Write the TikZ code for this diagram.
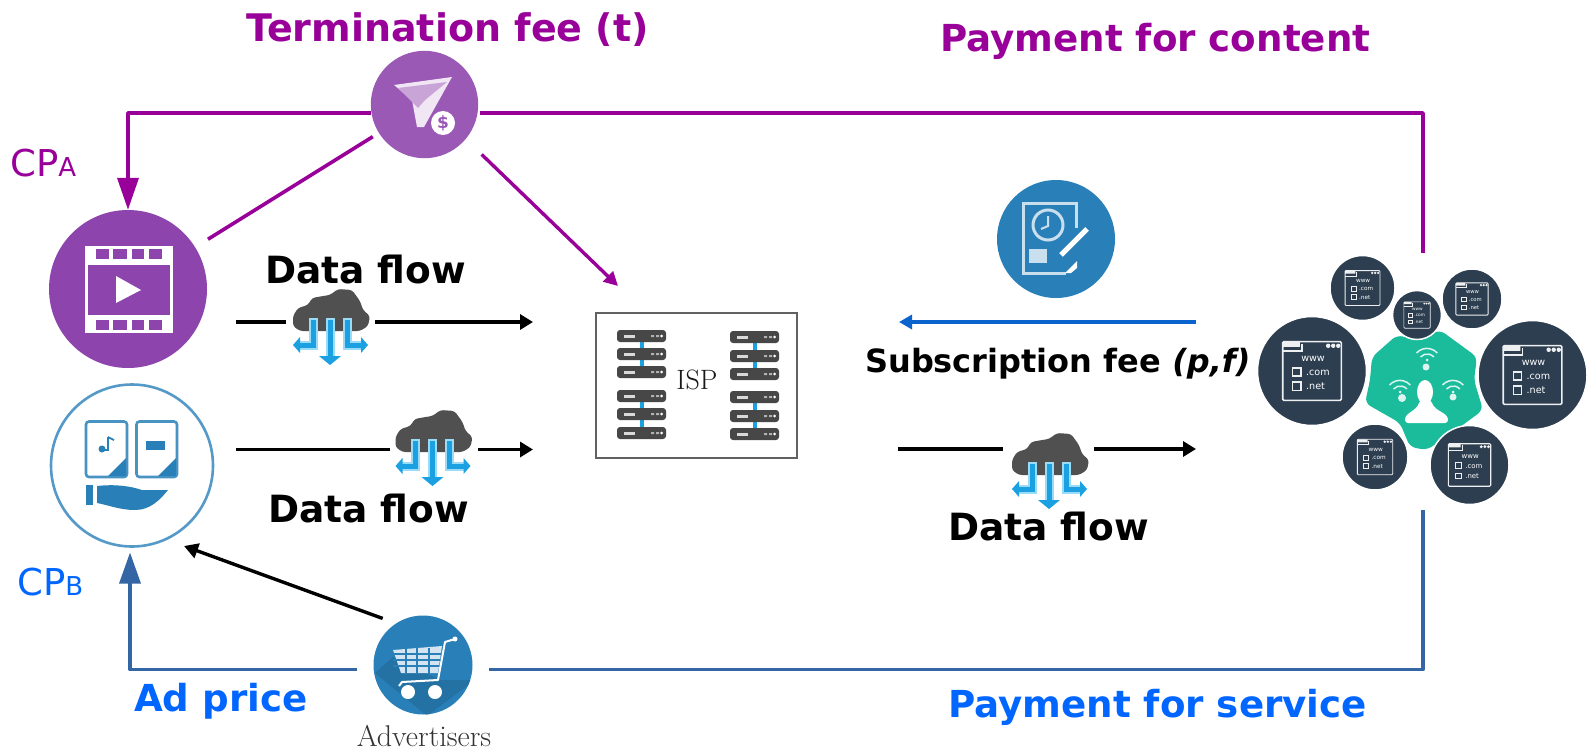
\documentclass[tikz,border=0pt]{standalone}
\usepackage{fontspec}
\newfontfamily\dv{DejaVu Sans}
\usetikzlibrary{arrows.meta,calc}
\definecolor{pline}{HTML}{990099}
\definecolor{termc}{HTML}{9B59B6}
\definecolor{cpac}{HTML}{8E44AD}
\definecolor{iconblue}{HTML}{2980B9}
\definecolor{bline}{HTML}{3465A4}
\definecolor{lblue}{HTML}{0066FF}
\definecolor{subb}{HTML}{0B63CE}
\definecolor{darkc}{HTML}{2C3E50}
\definecolor{teal}{HTML}{1ABC9C}
\definecolor{cloudc}{HTML}{505050}
\definecolor{pipe}{HTML}{1BA1E2}
\definecolor{pipel}{HTML}{9ADCF7}
\newcommand{\fsz}[1]{\fontsize{#1}{#1}\selectfont}
\tikzset{
  plabel/.style={anchor=base west,inner sep=0pt,font=\dv\bfseries\fsz{37.2},text=pline},
  blabel/.style={anchor=base west,inner sep=0pt,font=\dv\bfseries\fsz{37.2},text=lblue},
  dlabel/.style={anchor=base west,inner sep=0pt,font=\dv\bfseries\fsz{37.5},text=black},
  purpleline/.style={draw=pline,line width=3.6pt},
  purplearrow/.style={purpleline,-{Triangle[length=32pt,width=21pt]}},
  thinpurple/.style={draw=pline,line width=3.4pt,-{Triangle[length=14pt,width=14pt]}},
  blueline/.style={draw=bline,line width=3.4pt},
  bluearrow/.style={blueline,-{Triangle[length=31pt,width=21pt]}},
  flow/.style={draw=black,line width=3.4pt},
  flowarrow/.style={flow,-{Triangle[length=13pt,width=15pt]}},
  circ/.style={circle,inner sep=0pt},
  ghost/.style={rectangle,inner sep=0pt,outer sep=0pt},
}
% cloud icon, origin at top centre of the cloud
\newcommand{\cloudicon}[2]{%
  \begin{scope}[shift={(#1,#2)}]
    \fill[cloudc,rounded corners=3pt] (-38,27) -- (-33,19) -- (-23,16) -- (-19,9) -- (-8,7) -- (-1,6) -- (7,0)
      -- (21,1) -- (29,12) -- (32,21) -- (39,27) -- (37,37) -- (29,42) -- (-31,42) -- (-38,37) -- cycle;
    \draw[pipel,line width=9pt,line join=miter] (-18,29) -- (-18,56) -- (-32,56);
    \draw[pipel,line width=9pt] (-1,29) -- (-1,68);
    \draw[pipel,line width=9pt,line join=miter] (16,29) -- (16,56) -- (30,56);
    \draw[pipe,line width=5pt,line join=miter] (-18,31) -- (-18,56) -- (-33,56);
    \draw[pipe,line width=5pt] (-1,31) -- (-1,68);
    \draw[pipe,line width=5pt,line join=miter] (16,31) -- (16,56) -- (31,56);
    \fill[pipe] (-38,56) -- (-31,48) -- (-31,64) -- cycle;
    \fill[pipe] (37,56) -- (30,48) -- (30,64) -- cycle;
    \fill[pipe] (-1,76) -- (-12,67) -- (10,67) -- cycle;
  \end{scope}}
% rack unit
\newcommand{\serverunit}[2]{%
  \fill[black!72,rounded corners=3pt] (#1,#2-6) rectangle ++(49,12);
  \fill[white!85!black] (#1+7,#2-1.5) rectangle ++(11,3);
  \fill[white!70!black] (#1+34,#2-1) rectangle ++(3,2) (#1+39,#2-1) rectangle ++(3,2);
  \fill[white] (#1+44.5,#2) circle (1.5);}
\newcommand{\rackgroup}[4]{%
  \fill[pipe] (#1+22.5,#2) rectangle (#1+26.5,#4);
  \serverunit{#1}{#2}\serverunit{#1}{#3}\serverunit{#1}{#4}}
% website circle: name, x, y, radius
\newcommand{\webcircle}[4]{%
  \node[circ,fill=darkc,draw=white,line width=1.5pt,minimum size=#4*2pt] (#1) at (#2,#3) {};
  \pgfmathsetmacro{\ws}{#4/54}
  \pgfmathsetmacro{\wf}{9.5*\ws}
  \begin{scope}[shift={(#2,#3)},x=\ws pt,y=-\ws pt,white!92!darkc]
    \draw[line width=\ws*1.5pt,rounded corners=1pt] (-29,-29) rectangle (29,29);
    \draw[line width=\ws*1.5pt] (-29,-20) -- (-10,-20) -- (-10,-27);
    \fill (16,-25) circle (2.2) (21,-25) circle (2.2) (26,-25) circle (2.2) (-29,-29) rectangle (-12,-24);
    \node[inner sep=0pt,text=white,font=\dv\fsz{\wf}] (#1www) at (1,-12) {www};
    \draw[line width=\ws*1.3pt] (-19,-3) rectangle (-11,5) (-19,11) rectangle (-11,19);
    \node[inner sep=0pt,text=white,font=\dv\fsz{\wf},anchor=west] (#1com) at (-6,1.5) {.com};
    \node[inner sep=0pt,text=white,font=\dv\fsz{\wf},anchor=west] (#1net) at (-6,15) {.net};
  \end{scope}}
\newcommand{\wifi}[3]{%
  \begin{scope}[shift={(#1,#2)},white!85!teal,line width=1.5pt]
    \draw (-10.5,-2) arc (222:318:14);
    \draw (-6.5,2) arc (222:318:9);
    \fill (0,5) circle (1.5);
    \fill #3;
  \end{scope}}
\begin{document}
\begin{tikzpicture}[x=1pt,y=-1pt]
\useasboundingbox (0,0) rectangle (1589,750);
\fill[white] (0,0) rectangle (1589,750);

% ---------- hubs
\node[circ,fill=termc,minimum size=107.4pt] (term) at (424.5,104.5) {};
\node[circ,fill=cpac,minimum size=158pt] (cpa) at (128,289) {};
\node[circ,draw=iconblue!80!white,line width=2.6pt,fill=white,minimum size=162pt,outer sep=6pt] (cpb) at (132,465.5) {};
\node[circ,fill=iconblue,minimum size=99pt,outer sep=16.5pt] (adv) at (423,665) {};
\node[circ,fill=iconblue,minimum size=118pt] (doc) at (1056,239) {};
\node[ghost,draw=black!62,line width=2pt,fill=white,minimum width=201pt,minimum height=145pt] (isp) at (696.5,385.5) {};
\node[ghost,minimum width=329pt,minimum height=257pt] (users) at (1423,381.5) {};
\node[ghost,minimum width=89pt,minimum height=76pt] (cloudA) at (330.5,322) {};
\node[ghost,minimum width=88pt,minimum height=76pt] (cloudB) at (434,449.5) {};
\node[ghost,minimum width=91pt,minimum height=76pt] (cloudC) at (1048.5,449) {};

% ---------- free ends
\coordinate (flowAstart) at (236,322);
\coordinate (flowAend) at (533,322);
\coordinate (flowBstart) at (236,449.5);
\coordinate (flowBend) at (533,449.5);
\coordinate (flowCstart) at (898,449);
\coordinate (flowCend) at (1196,449);
\coordinate (subStart) at (1196,322);
\coordinate (subEnd) at (899,322);
\coordinate (ispIn) at (618,286);
\coordinate (cpbIn) at (184,546);

% ---------- connectors
\draw[purplearrow,line join=round] (term.189.5) -| (cpa.north);
\draw[purpleline,line join=round] ([xshift=2pt]term.-9.5) -| (users.north);
\draw[purpleline,shorten <=7pt,shorten >=15pt] (term) -- (cpa);
\draw[thinpurple,shorten <=22pt] (term.-40) -- (ispIn);
\draw[bluearrow,line join=round] (adv.184.3) -| ([xshift=-2pt]cpb.south);
\draw[blueline,line join=round] (adv.-4.3) -| (users.south);
\draw[draw=black,line width=3.4pt,shorten <=-5pt,-{Triangle[length=14pt,width=15pt]}] (adv.133) -- (cpbIn);
\draw[flow] (flowAstart) -- (cloudA.west);
\draw[flowarrow] (cloudA.east) -- (flowAend);
\draw[flow] (flowBstart) -- (cloudB.west);
\draw[flowarrow] (cloudB.east) -- (flowBend);
\draw[flow] (flowCstart) -- (cloudC.west);
\draw[flowarrow] (cloudC.east) -- (flowCend);
\draw[draw=subb,line width=3.4pt,-{Triangle[length=13pt,width=14pt]}] (subStart) -- (subEnd);

% ---------- cloud icons
\cloudicon{331}{289}
\cloudicon{433.5}{410}
\cloudicon{1050}{433}

% ---------- film icon (CP A)
\fill[white] (84.5,246) rectangle (173,333);
\fill[cpac] (87.5,265) rectangle (170,315);
\foreach \hx/\hw in {96/13,113/14,132/12,149/13}{
  \fill[cpac] (\hx,249) rectangle ++(\hw,10);
  \fill[cpac] (\hx,320) rectangle ++(\hw,10);}
\fill[white] (116,276) -- (116,303) -- (141,290) -- cycle;

% ---------- termination icon
\fill[white!85!termc] (394,85) -- (452,77) -- (424,127) -- (417,127) -- (412,100) -- cycle;
\fill[termc!55!white] (398,88) -- (447,82) -- (425,100) -- (418,108) -- cycle;
\fill[white] (443,123) circle (12);
\node[inner sep=0pt,text=termc,font=\dv\bfseries\fsz{17}] (dollar) at (443,123) {\$};

% ---------- CP B icon
\begin{scope}[draw=iconblue!85!white,line width=2.6pt,rounded corners=3pt]
  \draw (86,421.5) rectangle (127,477);
  \draw (136.5,421.5) rectangle (177,477);
\end{scope}
\fill[iconblue] (126,458) -- (126,476) -- (108,476) -- cycle;
\fill[iconblue] (176,458) -- (176,476) -- (158,476) -- cycle;
\draw[iconblue,line width=1.8pt] (108,437) -- (108,450) -- (102,450) (108,437) -- (114,440);
\fill[iconblue] (102,449) circle (3.5);
\fill[iconblue] (146,441) rectangle (165,450);
\fill[iconblue] (86,485) rectangle (93,505);
\fill[iconblue] (97,486) .. controls (115,484) and (130,486) .. (142,490) -- (168,490)
  .. controls (160,500) and (150,510) .. (135,510) .. controls (120,510) and (108,505) .. (97,503) -- cycle;

% ---------- advertiser icon
\begin{scope}
  \clip (adv.center) circle (49.5);
  \fill[black!12!iconblue] (393,657) -- (375,673) -- (427,716) -- (475,680) -- (440,680) -- cycle;
\end{scope}
\fill[white!80!iconblue] (393,650) -- (442,646) -- (438,673) -- (401,673) -- cycle;
\foreach \yy in {654,660,666}{\draw[iconblue,line width=1.3pt] (393,\yy) -- (442,\yy);}
\foreach \xx in {406,417,429}{\draw[iconblue,line width=1.3pt] (\xx,648) -- (\xx,674);}
\draw[white,line width=2pt,line join=round] (455,639) -- (445,642) -- (438,680) -- (402,682) -- (399,686);
\fill[white] (455,639) circle (2.5);
\fill[white] (408,692) circle (7) (435,692) circle (7);

% ---------- subscription icon
\begin{scope}[white!75!iconblue]
  \draw[line width=3pt] (1076,228) -- (1076,203) -- (1023,203) -- (1023,273) -- (1066,273);
  \draw[line width=3pt] (1048,225) circle (15);
  \draw[line width=2pt] (1048,216) -- (1048,226) -- (1041,229);
  \fill (1029,249) rectangle (1047,263);
\end{scope}
\draw[white,line width=5pt] (1061,255) -- (1087,229);
\fill[white] (1065,273) -- (1077,261) -- (1077,268) -- (1071,273) -- cycle;

% ---------- ISP servers
\rackgroup{617}{336}{354}{372}
\rackgroup{617}{396}{414}{433}
\rackgroup{730}{337}{356}{374}
\rackgroup{730}{397}{416}{434}
\node[inner sep=0pt,font=\fsz{28},text=black!90] (isplabel) at (697,380) {ISP};

% ---------- users cluster
\fill[teal,rounded corners=6pt] (1372,357) -- (1397,335) -- (1417,340) -- (1440,330) -- (1477,357)
  -- (1474,380) -- (1483,410) -- (1460,427) -- (1427,450) -- (1410,447) -- (1400,423) -- (1365,403) -- (1370,380) -- cycle;
\fill[white] (1425,392) ellipse (8 and 12);
\fill[white,rounded corners=3pt] (1405,423) .. controls (1405,412) and (1416,412) .. (1420,400)
  -- (1431,400) .. controls (1435,412) and (1448,412) .. (1448,423) -- cycle;
\wifi{1427}{355}{(-1,12) circle (3.5)}
\wifi{1400}{387}{(2,11) circle (4)}
\wifi{1453}{387}{(0,10) circle (3.5)}
\webcircle{webA}{1312}{371}{54.5}
\webcircle{webB}{1532.5}{375}{54.5}
\webcircle{webC}{1362.5}{288}{32.5}
\webcircle{webD}{1417}{315}{24.5}
\webcircle{webE}{1472}{299}{30}
\webcircle{webF}{1375}{457}{33}
\webcircle{webG}{1469.5}{465}{39.5}

% ---------- labels
\node[plabel,font=\dv\bfseries\fsz{38}] (ltermination) at (246,41) {Termination fee (t)};
\node[plabel] (lcontent) at (940,51) {Payment for content};
\node[blabel] (lservice) at (948,717) {Payment for service};
\node[blabel] (ladprice) at (134,711) {Ad price};
\node[dlabel] (ldataA) at (265,283) {Data flow};
\node[dlabel] (ldataB) at (268,522) {Data flow};
\node[dlabel] (ldataC) at (948,540) {Data flow};
\node[dlabel,font=\dv\bfseries\fsz{32}] (lsub) at (865,372) {Subscription fee \textit{(p,f)}};
\node[anchor=base west,inner sep=0pt,text=pline] (lcpa) at (10,176) {\dv\fsz{37}CP\fsz{26}A};
\node[anchor=base west,inner sep=0pt,text=lblue] (lcpb) at (17,595) {\dv\fsz{37}CP\fsz{26}B};
\node[anchor=base,inner sep=0pt,font=\fsz{30},text=black!80] (ladv) at (424,746) {Advertisers};
\end{tikzpicture}
\end{document}
